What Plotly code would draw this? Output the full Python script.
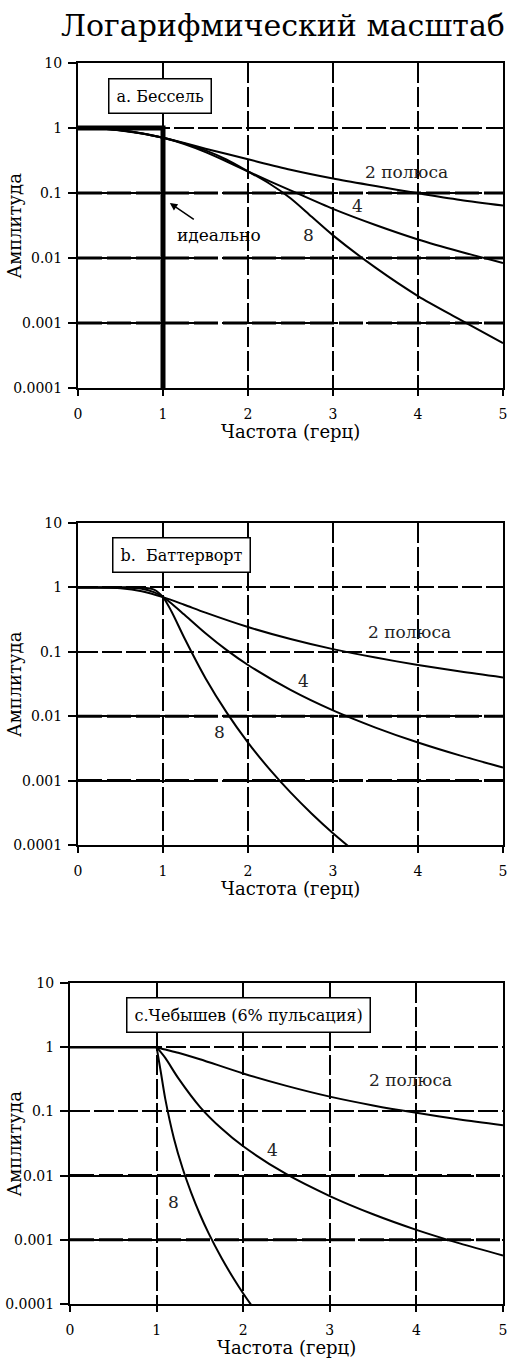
import math
import plotly.graph_objects as go

# ---------------- data ----------------
title_text = "Логарифмический масштаб"
x_title = "Частота (герц)"
y_title = "Амплитуда"

x_tick_vals = [0, 1, 2, 3, 4, 5]
y_tick_vals = [0.0001, 0.001, 0.01, 0.1, 1, 10]
y_tick_text = ["0.0001", "0.001", "0.01", "0.1", "1", "10"]

# a. Bessel
bessel2_f = [0, 0.25, 0.5, 0.75, 1, 1.25, 1.5, 2, 2.5, 3, 3.5, 4, 4.5, 5]
bessel2_v = [1, 0.98, 0.921, 0.825, 0.707, 0.587, 0.481, 0.33, 0.228, 0.167, 0.128, 0.099, 0.078, 0.064]
bessel4_f = [0, 0.25, 0.5, 0.75, 1, 1.25, 1.5, 1.75, 2, 2.5, 3, 3.5, 4, 4.5, 5]
bessel4_v = [1, 0.98, 0.922, 0.829, 0.707, 0.566, 0.426, 0.305, 0.214, 0.11, 0.057, 0.0322, 0.0193, 0.0125, 0.0084]
bessel8_f = [0, 0.25, 0.5, 0.75, 1, 1.25, 1.5, 1.75, 2, 2.25, 2.5, 2.75, 3, 3.5, 4, 4.5, 5]
bessel8_v = [1, 0.979, 0.917, 0.823, 0.707, 0.58, 0.452, 0.325, 0.215, 0.14, 0.083, 0.043, 0.0223, 0.0071, 0.0026, 0.00112, 0.00049]
ideal_f = [0, 1, 1]
ideal_v = [1, 1, 0.0001]

# b. Butterworth
butter2_f = [0, 0.25, 0.5, 0.75, 1, 1.25, 1.5, 2, 2.5, 3, 3.5, 4, 4.5, 5]
butter2_v = [1, 0.998, 0.970, 0.872, 0.707, 0.539, 0.406, 0.2425, 0.158, 0.110, 0.0814, 0.0624, 0.0493, 0.040]
butter4_f = [0, 0.25, 0.5, 0.75, 0.9, 1, 1.1, 1.25, 1.5, 1.75, 2, 2.5, 3, 3.5, 4, 4.5, 5]
butter4_v = [1, 1, 0.998, 0.953, 0.836, 0.707, 0.564, 0.379, 0.194, 0.106, 0.0624, 0.0256, 0.0123, 0.00666, 0.0039, 0.00244, 0.0016]
butter8_f = [0, 0.5, 0.75, 0.9, 1, 1.1, 1.25, 1.5, 1.75, 2, 2.25, 2.5, 2.75, 3, 3.25]
butter8_v = [1, 1, 0.995, 0.918, 0.707, 0.423, 0.1655, 0.039, 0.01137, 0.0039, 0.00152, 0.000655, 0.000306, 0.000152, 0.0000803]

# c. Chebyshev (6% ripple)
cheb_pass_f = [0, 0.5, 1]
cheb_pass_v = [1, 1, 1]
cheb2_f = [1, 1.1, 1.25, 1.5, 2, 2.5, 3, 3.5, 4, 4.5, 5]
cheb2_v = [1, 0.92, 0.82, 0.65, 0.39, 0.25, 0.17, 0.124, 0.095, 0.075, 0.061]
cheb4_f = [1, 1.1, 1.25, 1.5, 1.75, 2, 2.5, 3, 3.5, 4, 4.5, 5]
cheb4_v = [1, 0.68, 0.33, 0.118, 0.054, 0.0286, 0.0105, 0.0048, 0.0025, 0.00143, 0.00088, 0.00057]
cheb8_f = [1, 1.05, 1.1, 1.2, 1.3, 1.4, 1.5, 1.6, 1.75, 1.9, 2.0, 2.1]
cheb8_v = [1, 0.40, 0.157, 0.038, 0.013, 0.0054, 0.0025, 0.00127, 0.00052, 0.000236, 0.000146, 0.0000936]

# ---------------- figure ----------------
W, H = 509, 1367
FONT = "DejaVu Serif"
fig = go.Figure()

def curve(f, v, ax, width=2, shape="spline"):
    fig.add_trace(go.Scatter(x=f, y=v, mode="lines", xaxis="x" + ax, yaxis="y" + ax,
                             line=dict(color="black", width=width, shape=shape, smoothing=0.8),
                             hoverinfo="skip", showlegend=False))

# panel a
curve(bessel2_f, bessel2_v, "")
curve(bessel4_f, bessel4_v, "")
curve(bessel8_f, bessel8_v, "")
curve(ideal_f, ideal_v, "", width=5, shape="linear")
# panel b
curve(butter2_f, butter2_v, "2")
curve(butter4_f, butter4_v, "2")
curve(butter8_f, butter8_v, "2")
# panel c
curve(cheb_pass_f, cheb_pass_v, "3", width=2.5, shape="linear")
curve(cheb2_f, cheb2_v, "3")
curve(cheb4_f, cheb4_v, "3")
curve(cheb8_f, cheb8_v, "3")

# panel pixel geometry: (left, right, top, bottom)
panels = [(78, 503, 63, 388), (78, 503, 523, 845), (70, 503, 983, 1304)]
thick = [[0.1, 0.01, 0.001], [0.01, 0.001], [0.01, 0.001]]

layout = dict(width=W, height=H, margin=dict(l=0, r=0, t=0, b=0, autoexpand=False),
              paper_bgcolor="white", plot_bgcolor="white", showlegend=False)

shapes = []
annotations = []
for i, (l, r, t, b) in enumerate(panels):
    sfx = "" if i == 0 else str(i + 1)
    xa = dict(domain=[l / W, r / W], range=[0, 5], tickvals=x_tick_vals,
              ticks="outside", ticklen=6, tickwidth=1.5, tickcolor="black",
              showline=True, mirror=True, linewidth=2, linecolor="black",
              showgrid=True, gridcolor="black", gridwidth=1.5, griddash="20px,4px",
              zeroline=False, tickfont=dict(family=FONT, size=14, color="black"),
              ticklabelstandoff=6, anchor="y" + sfx, fixedrange=True)
    ya = dict(domain=[1 - b / H, 1 - t / H], type="log", range=[-4, 1],
              tickvals=y_tick_vals, ticktext=y_tick_text,
              ticks="outside", ticklen=8, tickwidth=1.5, tickcolor="black",
              showline=True, mirror=True, linewidth=2, linecolor="black",
              showgrid=True, gridcolor="black", gridwidth=1.5, griddash="20px,4px",
              zeroline=False, tickfont=dict(family=FONT, size=14, color="black"),
              ticklabelstandoff=3, anchor="x" + sfx, fixedrange=True)
    layout["xaxis" + sfx] = xa
    layout["yaxis" + sfx] = ya
    for yv in thick[i]:
        shapes.append(dict(type="line", xref="x" + sfx, yref="y" + sfx, x0=0, x1=5, y0=yv, y1=yv,
                           line=dict(color="black", width=3, dash="24px,5px"), layer="below"))
    # axis titles
    annotations.append(dict(text=x_title, xref="paper", yref="paper", x=(l + r) / 2 / W,
                            y=1 - (b + 43) / H, showarrow=False, xanchor="center", yanchor="middle",
                            font=dict(family=FONT, size=18, color="black")))
    annotations.append(dict(text=y_title, xref="paper", yref="paper", x=14 / W,
                            y=1 - (t + b) / 2 / H, showarrow=False, textangle=-90,
                            xanchor="center", yanchor="middle",
                            font=dict(family=FONT, size=18, color="black")))

def label(text, x, y, ax, size=17, color="#222"):
    annotations.append(dict(text=text, xref="x" + ax, yref="y" + ax, x=x, y=y, showarrow=False,
                            font=dict(family=FONT, size=size, color=color)))

def box(text, x, y, ax):
    annotations.append(dict(text=text, xref="x" + ax, yref="y" + ax, x=x, y=y, showarrow=False,
                            bgcolor="white", bordercolor="black", borderwidth=1.5, borderpad=7,
                            font=dict(family=FONT, size=16, color="black")))

box("a. Бессель", 0.96, 0.49, "")
box("b.  Баттерворт", 1.22, 0.50, "2")
box("c.Чебышев (6% пульсация)", 2.06, 0.50, "3")

label("2 полюса", 3.86, math.log10(0.21), "")
label("4", 3.29, math.log10(0.063), "")
label("8", 2.71, math.log10(0.0226), "")
label("идеально", 1.66, math.log10(0.0226), "", color="black")
annotations.append(dict(text="", xref="x", yref="y", axref="x", ayref="y",
                        x=1.08, y=math.log10(0.07), ax=1.38, ay=math.log10(0.038),
                        showarrow=True, arrowhead=2, arrowsize=1, arrowwidth=1.5, arrowcolor="black"))

label("2 полюса", 3.9, math.log10(0.2), "2")
label("4", 2.65, math.log10(0.035), "2")
label("8", 1.67, math.log10(0.0056), "2")

label("2 полюса", 3.93, math.log10(0.307), "3")
label("4", 2.34, math.log10(0.025), "3")
label("8", 1.19, math.log10(0.0039), "3")

annotations.append(dict(text=title_text, xref="paper", yref="paper", x=283 / W, y=1 - 25 / H,
                        showarrow=False, xanchor="center", yanchor="middle",
                        font=dict(family=FONT, size=30, color="black")))

layout["shapes"] = shapes
layout["annotations"] = annotations
fig.update_layout(**layout)
fig.write_html("out.html")
